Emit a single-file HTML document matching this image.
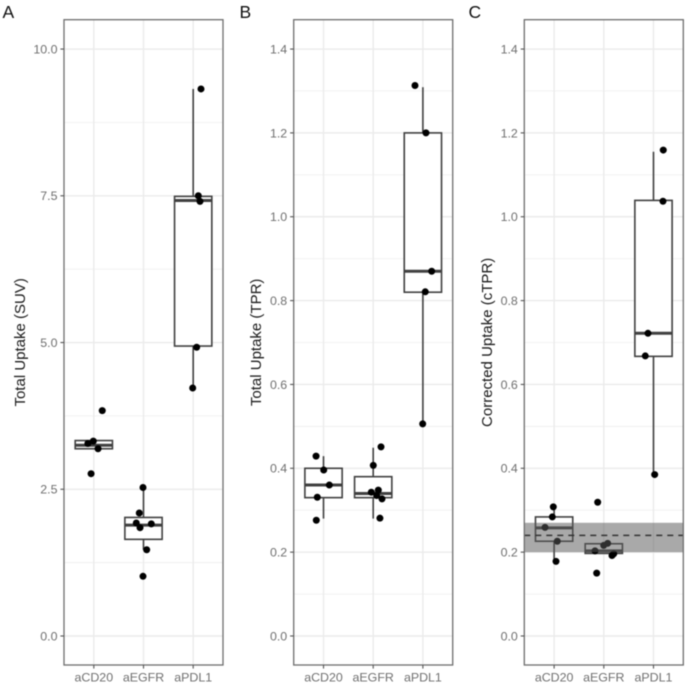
<!DOCTYPE html>
<html lang="en">
<head>
<meta charset="utf-8">
<title>Uptake boxplots</title>
<style>
html,body{margin:0;padding:0;background:#fff;width:685px;height:685px;overflow:hidden}
svg{display:block;filter:blur(0.5px)}
text{font-family:"Liberation Sans",sans-serif}
</style>
</head>
<body>
<svg id="figure" xmlns="http://www.w3.org/2000/svg" width="685" height="685" viewBox="0 0 685 685"></svg>
<script>
const categories = ['aCD20', 'aEGFR', 'aPDL1'];

// Panel A: Total Uptake (SUV)
const suvTicks = [0, 2.5, 5, 7.5, 10];
const suvTickLabels = ['0.0', '2.5', '5.0', '7.5', '10.0'];
const suvMinorTicks = [1.25, 3.75, 6.25, 8.75];
const suvDomain = [-0.494, 10.5];
const suvCd20 = [3.84, 3.32, 3.28, 3.19, 2.765];
const suvEgfr = [2.53, 2.095, 1.925, 1.845, 1.91, 1.47, 1.017];
const suvPdl1 = [9.32, 7.5, 7.405, 4.92, 4.225];
const suvCd20Jitter = [0.17, -0.01, -0.12, 0.085, -0.055];
const suvEgfrJitter = [-0.01, -0.085, -0.145, -0.07, 0.157, 0.064, -0.01];
const suvPdl1Jitter = [0.157, 0.103, 0.137, 0.07, -0.01];
// box statistics: whisker low, q1, median, q3, whisker high
const suvCd20Box = [3.19, 3.19, 3.25, 3.33, 3.33];
const suvEgfrBox = [1.47, 1.647, 1.89, 2.02, 2.53];
const suvPdl1Box = [4.225, 4.94, 7.42, 7.49, 9.32];

// Panel B: Total Uptake (TPR)
const ratioTicks = [0, 0.2, 0.4, 0.6, 0.8, 1.0, 1.2, 1.4];
const ratioTickLabels = ['0.0', '0.2', '0.4', '0.6', '0.8', '1.0', '1.2', '1.4'];
const ratioMinorTicks = [0.1, 0.3, 0.5, 0.7, 0.9, 1.1, 1.3];
const ratioDomain = [-0.0692, 1.47];
const tprCd20 = [0.429, 0.396, 0.36, 0.331, 0.276];
const tprEgfr = [0.451, 0.407, 0.343, 0.348, 0.335, 0.327, 0.281];
const tprPdl1 = [1.313, 1.2, 0.87, 0.821, 0.506];
const tprCd20Jitter = [-0.15, 0.004, 0.117, -0.125, -0.145];
const tprEgfrJitter = [0.157, 0.002, -0.038, 0.103, 0.07, 0.177, 0.135];
const tprPdl1Jitter = [-0.159, 0.062, 0.177, 0.048, -0.004];
const tprCd20Box = [0.28, 0.33, 0.36, 0.40, 0.429];
const tprEgfrBox = [0.28, 0.33, 0.34, 0.38, 0.449];
const tprPdl1Box = [0.506, 0.82, 0.87, 1.2, 1.309];

// Panel C: Corrected Uptake (cTPR)
const ctprCd20 = [0.308, 0.284, 0.259, 0.226, 0.178];
const ctprEgfr = [0.319, 0.221, 0.216, 0.203, 0.196, 0.192, 0.15];
const ctprPdl1 = [1.159, 1.037, 0.722, 0.668, 0.385];
const ctprCd20Jitter = [-0.016, -0.036, -0.183, 0.064, 0.038];
const ctprEgfrJitter = [-0.123, 0.078, -0.002, -0.177, 0.2, 0.165, -0.143];
const ctprPdl1Jitter = [0.197, 0.191, -0.111, -0.165, 0.024];
const ctprCd20Box = [0.178, 0.226, 0.258, 0.284, 0.308];
const ctprEgfrBox = [0.197, 0.197, 0.203, 0.22, 0.22];
const ctprPdl1Box = [0.385, 0.667, 0.722, 1.039, 1.155];
const referenceBand = [0.2, 0.27];
const referenceMean = [0.24];

const NS = 'http://www.w3.org/2000/svg';
const svg = document.getElementById('figure');
const PLOT_TOP = 19.7;
const PLOT_BOTTOM = 665;
const PLOT_WIDTH = 159;

function make(tag, parent, props, content) {
  const el = document.createElementNS(NS, tag);
  for (const key in props) el.setAttribute(key, props[key]);
  if (content !== undefined) el.textContent = content;
  parent.appendChild(el);
  return el;
}

function drawPanel(cfg) {
  const left = cfg.left;
  const right = left + PLOT_WIDTH;
  const yScale = v => PLOT_TOP + (cfg.domain[1] - v) / (cfg.domain[1] - cfg.domain[0]) * (PLOT_BOTTOM - PLOT_TOP);
  const xScale = p => left + (p + 0.6) / 3.2 * PLOT_WIDTH;

  const g = make('g', svg, {});
  
  

  const tag = make('text', g, {x: cfg.tagX, y: 18, 'font-size': 17.5, fill: '#111'}, cfg.tag);
  
  

  const bg = make('rect', g, {x: left, y: PLOT_TOP, width: PLOT_WIDTH, height: PLOT_BOTTOM - PLOT_TOP, fill: '#fff'});
  
  

  cfg.minor.forEach(v => {
    const line = make('line', g, {x1: left, x2: right, y1: yScale(v), y2: yScale(v), stroke: '#f0f0f0', 'stroke-width': 0.9});
    
    
  });
  cfg.ticks.forEach(v => {
    const line = make('line', g, {x1: left, x2: right, y1: yScale(v), y2: yScale(v), stroke: '#ebebeb', 'stroke-width': 1.4});
    
    
  });
  categories.forEach((c, i) => {
    const line = make('line', g, {x1: xScale(i), x2: xScale(i), y1: PLOT_TOP, y2: PLOT_BOTTOM, stroke: '#ebebeb', 'stroke-width': 1.4});
    
    
  });

  cfg.boxes.forEach((b, i) => {
    const cx = xScale(i);
    const halfWidth = 0.375 / 3.2 * PLOT_WIDTH;
    const bg2 = make('g', g, {stroke: '#404040', fill: 'none'});
    
    
    const wh = make('line', bg2, {x1: cx, x2: cx, y1: yScale(b[4]), y2: yScale(b[3]), 'stroke-width': 1.6});
    
    
    const wl = make('line', bg2, {x1: cx, x2: cx, y1: yScale(b[1]), y2: yScale(b[0]), 'stroke-width': 1.6});
    
    
    const box = make('rect', bg2, {x: cx - halfWidth, width: 2 * halfWidth, y: yScale(b[3]), height: yScale(b[1]) - yScale(b[3]), fill: '#fff', 'stroke-width': 1.6});
    
    
    const med = make('line', bg2, {x1: cx - halfWidth, x2: cx + halfWidth, y1: yScale(b[2]), y2: yScale(b[2]), 'stroke-width': 3});
    
    
  });

  cfg.series.forEach((values, i) => {
    values.forEach((v, j) => {
      const pt = make('circle', g, {cx: xScale(i + cfg.jitter[i][j]), cy: yScale(v), r: 3.5, fill: '#000'});
      
      
    });
  });

  if (cfg.band) {
    const band = make('rect', g, {x: left, width: PLOT_WIDTH, y: yScale(cfg.band[1]), height: yScale(cfg.band[0]) - yScale(cfg.band[1]), fill: 'rgb(90,90,90)', 'fill-opacity': 0.52});
    
    
    const mean = make('line', g, {x1: left, x2: right, y1: yScale(cfg.mean[0]), y2: yScale(cfg.mean[0]), stroke: '#333', 'stroke-width': 1.5, 'stroke-dasharray': '6 5'});
    
    
  }

  const border = make('rect', g, {x: left, y: PLOT_TOP, width: PLOT_WIDTH, height: PLOT_BOTTOM - PLOT_TOP, fill: 'none', stroke: '#6e6e6e', 'stroke-width': 1.3});
  
  

  cfg.ticks.forEach((v, i) => {
    const tick = make('line', g, {x1: left - 3.6, x2: left, y1: yScale(v), y2: yScale(v), stroke: '#555', 'stroke-width': 1.1});
    
    
    const label = make('text', g, {x: left - 6.5, y: yScale(v) + 4.4, 'font-size': 12.4, fill: '#6f6f6f', 'text-anchor': 'end'}, cfg.tickLabels[i]);
    
    
  });
  categories.forEach((c, i) => {
    const tick = make('line', g, {x1: xScale(i), x2: xScale(i), y1: PLOT_BOTTOM, y2: PLOT_BOTTOM + 3.6, stroke: '#555', 'stroke-width': 1.1});
    
    
    const label = make('text', g, {x: xScale(i), y: 681.5, 'font-size': 12.4, fill: '#6f6f6f', 'text-anchor': 'middle'}, c);
    
    
  });

  const titleY = (PLOT_TOP + PLOT_BOTTOM) / 2;
  const title = make('text', g, {transform: 'translate(' + cfg.titleX + ',' + titleY + ') rotate(-90)', 'font-size': 15, fill: '#1a1a1a', 'text-anchor': 'middle'}, cfg.title);
  
  
}

drawPanel({
  slug: 'suv', tag: 'A', tagX: 2.5, left: 64, titleX: 25,
  title: 'Total Uptake (SUV)', domain: suvDomain,
  ticks: suvTicks, tickLabels: suvTickLabels, minor: suvMinorTicks,
  series: [suvCd20, suvEgfr, suvPdl1],
  jitter: [suvCd20Jitter, suvEgfrJitter, suvPdl1Jitter],
  boxes: [suvCd20Box, suvEgfrBox, suvPdl1Box]
});
drawPanel({
  slug: 'tpr', tag: 'B', tagX: 239.5, left: 293.7, titleX: 261,
  title: 'Total Uptake (TPR)', domain: ratioDomain,
  ticks: ratioTicks, tickLabels: ratioTickLabels, minor: ratioMinorTicks,
  series: [tprCd20, tprEgfr, tprPdl1],
  jitter: [tprCd20Jitter, tprEgfrJitter, tprPdl1Jitter],
  boxes: [tprCd20Box, tprEgfrBox, tprPdl1Box]
});
drawPanel({
  slug: 'ctpr', tag: 'C', tagX: 468.5, left: 524.3, titleX: 492,
  title: 'Corrected Uptake (cTPR)', domain: ratioDomain,
  ticks: ratioTicks, tickLabels: ratioTickLabels, minor: ratioMinorTicks,
  series: [ctprCd20, ctprEgfr, ctprPdl1],
  jitter: [ctprCd20Jitter, ctprEgfrJitter, ctprPdl1Jitter],
  boxes: [ctprCd20Box, ctprEgfrBox, ctprPdl1Box],
  band: referenceBand, mean: referenceMean
});
</script>
</body>
</html>
